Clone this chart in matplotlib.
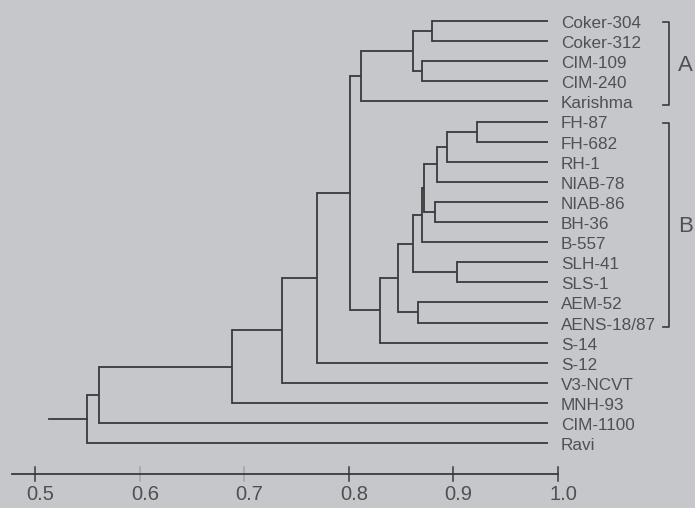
import matplotlib
matplotlib.use("Agg")
import matplotlib.pyplot as plt

# ---- data ----
leaves = ["Coker-304", "Coker-312", "CIM-109", "CIM-240", "Karishma",
          "FH-87", "FH-682", "RH-1", "NIAB-78", "NIAB-86", "BH-36", "B-557",
          "SLH-41", "SLS-1", "AEM-52", "AENS-18/87", "S-14", "S-12",
          "V3-NCVT", "MNH-93", "CIM-1100", "Ravi"]

# (node, child a, child b, similarity)
merges = [
    ("n1", "Coker-304", "Coker-312", 0.880),
    ("n2", "CIM-109", "CIM-240", 0.870),
    ("n3", "n1", "n2", 0.861),
    ("n4", "n3", "Karishma", 0.812),
    ("n5", "FH-87", "FH-682", 0.923),
    ("n6", "n5", "RH-1", 0.894),
    ("n7", "n6", "NIAB-78", 0.884),
    ("n8", "NIAB-86", "BH-36", 0.882),
    ("n9", "n7", "n8", 0.872),
    ("n10", "n9", "B-557", 0.870),
    ("n11", "SLH-41", "SLS-1", 0.903),
    ("n12", "n10", "n11", 0.861),
    ("n13", "AEM-52", "AENS-18/87", 0.866),
    ("n14", "n12", "n13", 0.847),
    ("n15", "n14", "S-14", 0.830),
    ("n16", "n4", "n15", 0.801),
    ("n17", "n16", "S-12", 0.770),
    ("n18", "n17", "V3-NCVT", 0.736),
    ("n19", "n18", "MNH-93", 0.688),
    ("n20", "n19", "CIM-1100", 0.561),
    ("n21", "n20", "Ravi", 0.550),
]
root_start = 0.513
leaf_end = 0.99

axis_ticks = [0.5, 0.6, 0.7, 0.8, 0.9, 1.0]
tick_labels = ["0.5", "0.6", "0.7", "0.8", "0.9", "1.0"]
groups = [("A", "Coker-304", "Karishma"), ("B", "FH-87", "AENS-18/87")]

# ---- drawing ----
bg = "#c6c7cb"
line_c = "#3a3a3c"
text_c = "#505052"

fig = plt.figure(figsize=(6.95, 5.08), dpi=100)
fig.patch.set_facecolor(bg)
ax = fig.add_axes([0, 0, 1, 1])
ax.set_facecolor(bg)
ax.set_xlim(0.4665, 1.131)
ax.set_ylim(508, 0)
ax.axis("off")

def ypos(i):
    return 21 + 20.1 * i

pos = {name: (leaf_end, ypos(i)) for i, name in enumerate(leaves)}
for node, a, b, s in merges:
    xa, ya = pos[a]
    xb, yb = pos[b]
    ax.plot([xa, s], [ya, ya], color=line_c, lw=1.3, solid_capstyle="butt")
    ax.plot([xb, s], [yb, yb], color=line_c, lw=1.3, solid_capstyle="butt")
    ax.plot([s, s], [ya, yb], color=line_c, lw=1.3, solid_capstyle="projecting")
    pos[node] = (s, (ya + yb) / 2)

rx, ry = pos[merges[-1][0]]
ax.plot([root_start, rx], [ry, ry], color=line_c, lw=1.3)

font = ["Liberation Sans", "DejaVu Sans"]
for i, name in enumerate(leaves):
    ax.text(1.003, ypos(i) + 2.5, name, ha="left", va="center",
            fontsize=12.3, color=text_c, family=font)

# group brackets
for g, first, last in groups:
    y0 = ypos(leaves.index(first)) + 1
    y1 = ypos(leaves.index(last)) + 4
    bx = 1.106
    ax.plot([1.100, bx, bx, 1.100], [y0, y0, y1, y1], color=line_c, lw=1.2)
    ax.text(1.122, (y0 + y1) / 2 + 2, g, ha="center", va="center",
            fontsize=16, color=text_c, family=font)

# similarity axis
ay = 474
ax.plot([0.478, 1.0], [ay, ay], color=line_c, lw=1.3)
for t, lab in zip(axis_ticks, tick_labels):
    faint = t in (0.6, 0.7)
    ax.plot([t, t], [ay - 7, ay + 7], color=line_c, lw=1.1,
            alpha=0.25 if faint else 1.0)
    ax.text(t + 0.005, ay + 21, lab, ha="center", va="center",
            fontsize=14.5, color=text_c, family=font)

fig.savefig("out.png", dpi=100, facecolor=bg)
